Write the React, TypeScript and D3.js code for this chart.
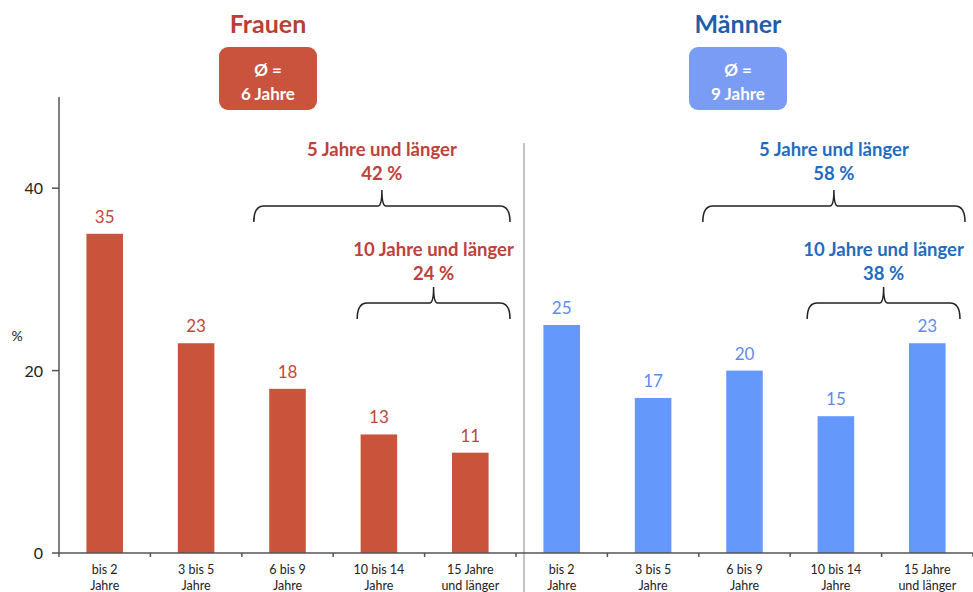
import React from "react";
import * as d3 from "d3";

const groups = ["Frauen", "Männer"];
const categories = [
  ["bis 2", "Jahre"],
  ["3 bis 5", "Jahre"],
  ["6 bis 9", "Jahre"],
  ["10 bis 14", "Jahre"],
  ["15 Jahre", "und länger"],
];
const frauenValues = [35, 23, 18, 13, 11];
const maennerValues = [25, 17, 20, 15, 23];
const averages = ["6 Jahre", "9 Jahre"];
const yTicks = [0, 20, 40];
const bracketLabels = [
  { group: 0, from: 2, to: 4, text: "5 Jahre und länger", pct: "42 %" },
  { group: 0, from: 3, to: 4, text: "10 Jahre und länger", pct: "24 %" },
  { group: 1, from: 2, to: 4, text: "5 Jahre und länger", pct: "58 %" },
  { group: 1, from: 3, to: 4, text: "10 Jahre und länger", pct: "38 %" },
];

const W = 973;
const H = 592;
const FONT = "Lato, 'Open Sans', sans-serif";
const barColors = ["#c9533b", "#6598fb"];
const labelColors = ["#c0473a", "#5b8def"];
const titleColors = ["#b93f35", "#1f5eab"];
const boxColors = ["#c9533d", "#7b9cf5"];
const bracketTextColors = ["#c0403a", "#1f6cc0"];
// left / right insets of each bracket within its span of bands (px)
const bracketInsets = [
  [12, 6],
  [24, 6],
  [4, 8],
  [17, 13],
];

export default function App() {
  const ids = d3.range(10).map(String);
  const x = d3
    .scaleBand<string>()
    .domain(ids)
    .range([59, 973])
    .paddingInner(0.6)
    .paddingOuter(0.3);
  const step = x.step();
  const y = d3.scaleLinear().domain([0, 50]).range([553, 97]);
  const allValues = [...frauenValues, ...maennerValues];
  const bw = x.bandwidth();
  const bandStart = (i: number) => (x(String(i)) as number) - step * 0.3;
  const center = (i: number) => (x(String(i)) as number) + bw / 2;

  const groupCenters = [268, 738];
  const bracketYs = [206, 303];

  return (
    <svg
      width={W}
      height={H}
      style={{ position: "absolute", left: 0, top: 0, background: "#fff" }}
      fontFamily={FONT}
    >
      {groups.map((g, gi) => (
        <g key={g}>
          <text
            x={groupCenters[gi]}
            y={33}
            textAnchor="middle"
            fontSize={25}
            fontWeight={700}
            fill={titleColors[gi]}
          >
            {g}
          </text>
          <rect
            x={groupCenters[gi] - 49}
            y={47}
            width={98}
            height={63}
            rx={9}
            fill={boxColors[gi]}
          />
          <text
            x={groupCenters[gi]}
            y={76}
            textAnchor="middle"
            fontSize={17}
            fontWeight={700}
            fill="#fff"
          >
            Ø =
          </text>
          <text
            x={groupCenters[gi]}
            y={100}
            textAnchor="middle"
            fontSize={17}
            fontWeight={700}
            fill="#fff"
          >
            {averages[gi]}
          </text>
        </g>
      ))}

      <line x1={524} x2={524} y1={143} y2={592} stroke="#b0b0b0" strokeWidth={1.5} />

      {allValues.map((v, i) => {
        const gi = i < 5 ? 0 : 1;
        return (
          <g key={i}>
            <rect
              x={x(String(i))}
              y={y(v)}
              width={bw}
              height={y(0) - y(v)}
              fill={barColors[gi]}
            />
            <text
              x={center(i)}
              y={y(v) - 11}
              textAnchor="middle"
              fontSize={17}
              fill={labelColors[gi]}
            >
              {v}
            </text>
          </g>
        );
      })}

      <line x1={59} x2={59} y1={y(50)} y2={y(0)} stroke="#555" strokeWidth={1.5} />
      {yTicks.map((t) => (
        <g key={t}>
          <line x1={52} x2={59} y1={y(t)} y2={y(t)} stroke="#555" strokeWidth={1.5} />
          <text x={43} y={y(t) + 6} textAnchor="end" fontSize={16} fill="#222">
            {t}
          </text>
        </g>
      ))}
      <text x={17} y={341} textAnchor="middle" fontSize={14} fill="#222">
        %
      </text>

      <line x1={59} x2={973} y1={y(0)} y2={y(0)} stroke="#555" strokeWidth={1.5} />
      {d3.range(11).map((i) => (
        <line
          key={i}
          x1={59 + i * step}
          x2={59 + i * step}
          y1={y(0)}
          y2={y(0) + 4}
          stroke="#555"
          strokeWidth={1.5}
        />
      ))}
      {allValues.map((_, i) => {
        const c = categories[i % 5];
        return (
          <g key={"l" + i}>
            <text x={center(i)} y={574} textAnchor="middle" fontSize={12.5} fill="#222">
              {c[0]}
            </text>
            <text x={center(i)} y={590} textAnchor="middle" fontSize={12.5} fill="#222">
              {c[1]}
            </text>
          </g>
        );
      })}

      {bracketLabels.map((b, k) => {
        const off = b.group * 5;
        const level = b.from === 2 ? 0 : 1;
        const x0 = bandStart(b.from + off) + bracketInsets[k][0];
        const x1 = bandStart(b.to + off) + step - bracketInsets[k][1];
        const mid = (x0 + x1) / 2;
        const by = bracketYs[level];
        const path = `M${x0},${by + 16} Q${x0},${by} ${x0 + 10},${by} L${mid - 4},${by} Q${mid},${by} ${mid},${by - 16} Q${mid},${by} ${mid + 4},${by} L${x1 - 10},${by} Q${x1},${by} ${x1},${by + 16}`;
        const t1 = level === 0 ? by - 50 : by - 47;
        return (
          <g key={"b" + k}>
            <path d={path} fill="none" stroke="#222" strokeWidth={1.5} />
            <text
              x={mid}
              y={t1}
              textAnchor="middle"
              fontSize={18.5}
              fontWeight={700}
              fill={bracketTextColors[b.group]}
            >
              {b.text}
            </text>
            <text
              x={mid}
              y={t1 + 24}
              textAnchor="middle"
              fontSize={18.5}
              fontWeight={700}
              fill={bracketTextColors[b.group]}
            >
              {b.pct}
            </text>
          </g>
        );
      })}
    </svg>
  );
}
